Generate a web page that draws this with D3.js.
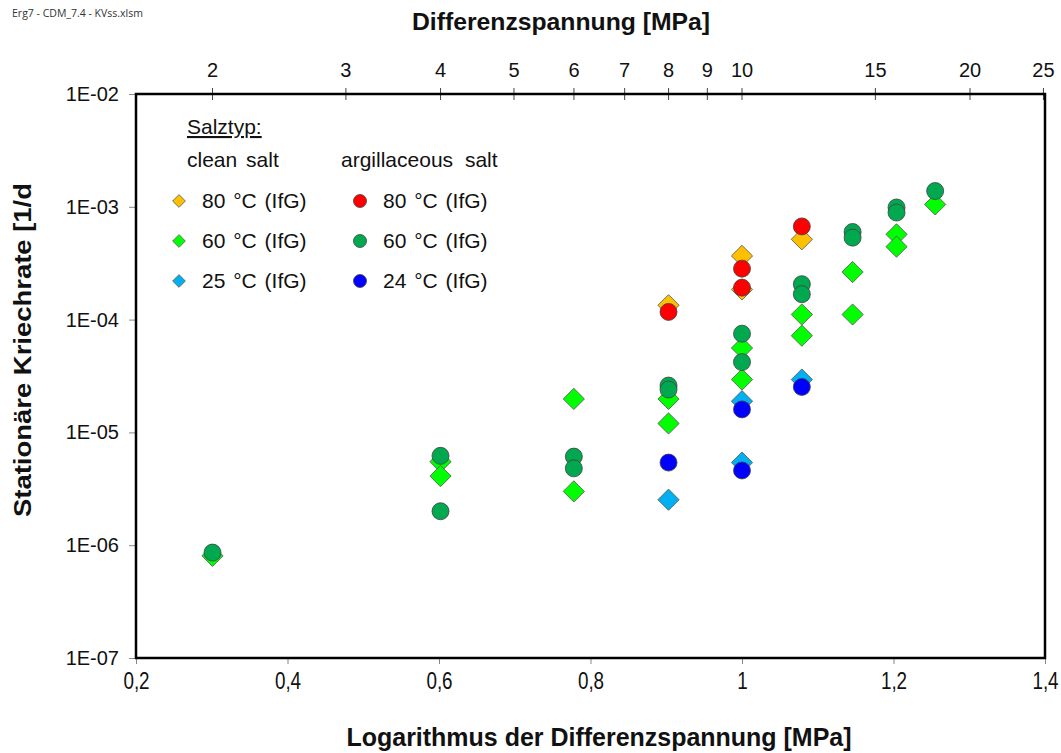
<!DOCTYPE html>
<html>
<head>
<meta charset="utf-8">
<script src="https://cdn.jsdelivr.net/npm/d3@7/dist/d3.min.js"></script>
<style>
  html, body { margin: 0; padding: 0; background: #fff; }
  svg { display: block; font-family: "Liberation Sans", Arial, sans-serif; }
</style>
</head>
<body>
<svg id="chart" width="1061" height="753"></svg>
<script>
// log10 of differential stress [MPa] per series, and stationary creep rate [1/d]
const cleanSalt80X = [0.903, 1.0, 1.0, 1.079];
const cleanSalt80Y = [1.34e-4, 3.67e-4, 1.85e-4, 5.15e-4];

const cleanSalt60X = [0.301, 0.602, 0.602, 0.778, 0.778, 0.903, 0.903, 1.0, 1.0, 1.079, 1.079, 1.146, 1.146, 1.204, 1.204, 1.255];
const cleanSalt60Y = [8.05e-7, 5.5e-6, 4.1e-6, 1.98e-5, 3.0e-6, 1.98e-5, 1.2e-5, 5.6e-5, 2.94e-5, 1.11e-4, 7.2e-5, 2.64e-4, 1.11e-4, 5.7e-4, 4.43e-4, 1.05e-3];

const cleanSalt25X = [0.903, 1.0, 1.0, 1.079];
const cleanSalt25Y = [2.53e-6, 1.89e-5, 5.4e-6, 2.94e-5];

const argSalt80X = [0.903, 1.0, 1.0, 1.079];
const argSalt80Y = [1.17e-4, 2.83e-4, 1.92e-4, 6.7e-4];

const argSalt60X = [0.301, 0.602, 0.602, 0.778, 0.778, 0.903, 0.903, 1.0, 1.0, 1.079, 1.079, 1.146, 1.146, 1.204, 1.204, 1.255];
const argSalt60Y = [8.6e-7, 6.2e-6, 2.0e-6, 6.1e-6, 4.8e-6, 2.6e-5, 2.4e-5, 7.5e-5, 4.2e-5, 2.06e-4, 1.68e-4, 5.98e-4, 5.33e-4, 9.86e-4, 8.9e-4, 1.38e-3];

const argSalt24X = [0.903, 1.0, 1.0, 1.079];
const argSalt24Y = [5.4e-6, 1.6e-5, 4.6e-6, 2.53e-5];

const bottomTicks = [0.2, 0.4, 0.6, 0.8, 1.0, 1.2, 1.4];
const topTicks = [2, 3, 4, 5, 6, 7, 8, 9, 10, 15, 20, 25];
const yTicks = [1e-2, 1e-3, 1e-4, 1e-5, 1e-6, 1e-7];

const legendHeader = "Salztyp:";
const legendGroups = ["clean salt", "argillaceous salt"];
const legendLabelsClean = ["80 °C (IfG)", "60 °C (IfG)", "25 °C (IfG)"];
const legendLabelsArg = ["80 °C (IfG)", "60 °C (IfG)", "24 °C (IfG)"];

const series = [
  { xs: cleanSalt80X, ys: cleanSalt80Y, shape: "diamond", color: "#FFC000" },
  { xs: cleanSalt60X, ys: cleanSalt60Y, shape: "diamond", color: "#00FF00" },
  { xs: cleanSalt25X, ys: cleanSalt25Y, shape: "diamond", color: "#00B0F0" },
  { xs: argSalt80X, ys: argSalt80Y, shape: "circle", color: "#FF0000" },
  { xs: argSalt60X, ys: argSalt60Y, shape: "circle", color: "#00A850" },
  { xs: argSalt24X, ys: argSalt24Y, shape: "circle", color: "#0000FF" }
];

const svg = d3.select("#chart");
const plotLeft = 136, plotRight = 1045, plotTop = 94, plotBottom = 658;

const x = d3.scaleLinear().domain([0.2, 1.4]).range([plotLeft, plotRight]);
const y = d3.scaleLog().domain([1e-7, 1e-2]).range([plotBottom, plotTop]);

// file caption
svg.append("text").attr("x", 12).attr("y", 17)
  .attr("font-family", "'Open Sans', 'Liberation Sans', sans-serif")
  .attr("font-size", 10.5).attr("fill", "#333")
  .text("Erg7 - CDM_7.4 - KVss.xlsm");

// bottom axis (condensed labels)
const xAxis = d3.axisBottom(x).tickValues(bottomTicks).tickSize(6).tickPadding(9)
  .tickFormat(d => d3.format(".1f")(d).replace(".", ",").replace(/^1,0$/, "1"));
const gx = svg.append("g").attr("transform", `translate(0,${plotBottom})`).call(xAxis);
gx.select(".domain").remove();
gx.selectAll(".tick line").attr("stroke", "#888");
gx.selectAll(".tick text").attr("font-family", "'Liberation Sans', sans-serif")
  .attr("font-size", 23).attr("fill", "#111")
  .attr("transform", "scale(0.82,1)");

// left axis
const yAxis = d3.axisLeft(y).tickValues(yTicks).tickSize(7).tickPadding(10)
  .tickFormat(d => "1E-" + String(Math.round(-Math.log10(d))).padStart(2, "0"));
const gy = svg.append("g").attr("transform", `translate(${plotLeft},0)`).call(yAxis);
gy.select(".domain").remove();
gy.selectAll(".tick line").attr("stroke", "#888");
gy.selectAll(".tick text").attr("font-size", 20).attr("fill", "#111");

// top axis: differential stress in MPa on log10 positions
const gt = svg.append("g").attr("transform", `translate(0,${plotTop})`);
const topTick = gt.selectAll("g").data(topTicks).join("g")
  .attr("transform", d => `translate(${x(Math.log10(d))},0)`);
topTick.append("line").attr("y1", -6).attr("y2", 6).attr("stroke", "#444").attr("stroke-width", 1);
topTick.append("text").attr("y", -17).attr("text-anchor", "middle")
  .attr("font-size", 20).attr("fill", "#111").text(d => d);

// plot frame
svg.append("rect").attr("x", plotLeft).attr("y", plotTop)
  .attr("width", plotRight - plotLeft).attr("height", plotBottom - plotTop)
  .attr("fill", "none").attr("stroke", "#000").attr("stroke-width", 2.5);

// titles
svg.append("text").attr("x", 561).attr("y", 30).attr("text-anchor", "middle")
  .attr("font-size", 24).attr("font-weight", "bold").attr("fill", "#111")
  .attr("textLength", 298).attr("lengthAdjust", "spacingAndGlyphs")
  .text("Differenzspannung [MPa]");
svg.append("text").attr("x", 599).attr("y", 746).attr("text-anchor", "middle")
  .attr("font-size", 25).attr("font-weight", "bold").attr("fill", "#111")
  .attr("textLength", 505).attr("lengthAdjust", "spacingAndGlyphs")
  .text("Logarithmus der Differenzspannung [MPa]");
svg.append("text").attr("transform", "translate(31,350) rotate(-90)").attr("text-anchor", "middle")
  .attr("font-size", 24).attr("font-weight", "bold").attr("fill", "#111")
  .attr("textLength", 334).attr("lengthAdjust", "spacingAndGlyphs")
  .text("Stationäre Kriechrate [1/d");

// markers: diamonds first, circles on top
const diamond = d3.symbol().type(d3.symbolSquare).size(15 * 15);
const plot = svg.append("g");
series.forEach(s => {
  const pts = s.xs.map((v, i) => ({ x: v, y: s.ys[i] }));
  if (s.shape === "diamond") {
    plot.append("g").selectAll("path").data(pts).join("path")
      .attr("d", diamond)
      .attr("transform", d => `translate(${x(d.x)},${y(d.y)}) rotate(45)`)
      .attr("fill", s.color).attr("stroke", "#5a5a5a").attr("stroke-width", 0.8);
  } else {
    plot.append("g").selectAll("circle").data(pts).join("circle")
      .attr("cx", d => x(d.x)).attr("cy", d => y(d.y)).attr("r", 8.5)
      .attr("fill", s.color).attr("stroke", "#404040").attr("stroke-width", 0.8);
  }
});

// legend
const lg = svg.append("g").attr("font-size", 21).attr("fill", "#111").attr("word-spacing", 2);
lg.append("text").attr("x", 187).attr("y", 134).text(legendHeader)
  .attr("text-decoration", "underline");
lg.append("text").attr("x", 187).attr("y", 167).text(legendGroups[0]).attr("word-spacing", 3);
lg.append("text").attr("x", 341).attr("y", 167).text(legendGroups[1]).attr("word-spacing", 6);
const rowY = [201, 241, 281];
const smallDiamond = d3.symbol().type(d3.symbolSquare).size(9 * 9);
legendLabelsClean.forEach((t, i) => {
  lg.append("path").attr("d", smallDiamond)
    .attr("transform", `translate(179,${rowY[i]}) rotate(45)`)
    .attr("fill", series[i].color).attr("stroke", "#5a5a5a").attr("stroke-width", 0.8);
  lg.append("text").attr("x", 202).attr("y", rowY[i]).attr("dy", "0.35em").text(t);
});
legendLabelsArg.forEach((t, i) => {
  lg.append("circle").attr("cx", 360).attr("cy", rowY[i]).attr("r", 6.5)
    .attr("fill", series[i + 3].color).attr("stroke", "#404040").attr("stroke-width", 0.8);
  lg.append("text").attr("x", 383).attr("y", rowY[i]).attr("dy", "0.35em").text(t);
});
</script>
</body>
</html>
